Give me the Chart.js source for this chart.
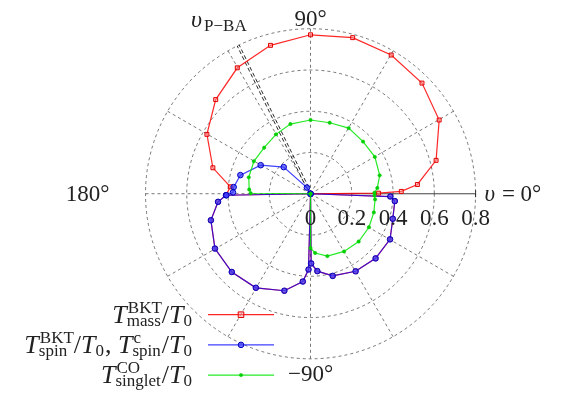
<!DOCTYPE html>
<html>
<head>
<meta charset="utf-8">
<script src="https://cdn.jsdelivr.net/npm/chart.js@4.4.1/dist/chart.umd.min.js"></script>
<style>
  html, body { margin: 0; padding: 0; background: #fff; }
  canvas { display: block; }
</style>
</head>
<body>
<canvas id="polar" width="569" height="409"></canvas>
<script>
// angles are upsilon in degrees, radii are T / T0

// lower half: mass and spin curves coincide
const lowerAngles = [180, -179, -175, -165, -150, -135, -120, -105, -95, -91.5, -90, -89.5, -85, -75, -60, -45, -30, -17, -5, -2, 0];
const lowerRadii  = [0, 0.41, 0.45, 0.50, 0.535, 0.54, 0.53, 0.49, 0.43, 0.37, 0, 0.34, 0.379, 0.415, 0.437, 0.446, 0.445, 0.417, 0.41, 0.387, 0];

const massAngles = [0.5, 1.5, 5, 15, 30, 45, 60, 75, 90, 105, 120, 135, 150, 165, 175, -179];
const massRadii  = [0.33, 0.44, 0.52, 0.63, 0.72, 0.764, 0.782, 0.789, 0.776, 0.75, 0.71, 0.65, 0.58, 0.49, 0.39, 0.41];

const spinAngles = [120, 135, 150, 165, 175, 179, -179];
const spinRadii  = [0.035, 0.184, 0.279, 0.352, 0.374, 0.376, 0.408];

const singletAngles = [-90, -90, -85.6, -75, -60, -45, -30, -16.5, -5, -1.5, 1, 5, 15, 30, 45, 60, 75, 90, 106, 120, 135, 150, 165, 176, 179.5, 180];
const singletRadii  = [0, 0.265, 0.29, 0.315, 0.325, 0.33, 0.327, 0.32, 0.314, 0.31, 0.31, 0.325, 0.347, 0.36, 0.36, 0.37, 0.359, 0.36, 0.354, 0.335, 0.318, 0.317, 0.31, 0.298, 0.29, 0];

const ringValues = [0.2, 0.4, 0.6, 0.8];
const tickLabels = ['0', '0.2', '0.4', '0.6', '0.8'];
const spokeAngles = [30, 60, 90, 120, 150, 180, 210, 240, 270, 300, 330];
const pbaAngle = 116;

const cx = 311, cy = 193.5, unit = 210; // pixel centre and px per unit
const W = 569, H = 409;

function polar(angles, radii) {
  return angles.map((a, i) => {
    const t = a * Math.PI / 180;
    return { x: radii[i] * Math.cos(t), y: radii[i] * Math.sin(t) };
  });
}

const SERIF = '"Liberation Serif", "DejaVu Serif", serif';
const fBig = '23px ' + SERIF;
const fItal = 'italic 26px ' + SERIF;
const fRom = '26px ' + SERIF;
const fSmall = '17px ' + SERIF;

// rich text: runs of {t, f} or {sup, sub}
function runWidth(ctx, runs) {
  let w = 0;
  runs.forEach(r => {
    if (r.t !== undefined) { ctx.font = r.f; w += ctx.measureText(r.t).width; }
    else {
      ctx.font = fSmall;
      w += Math.max(r.sup ? ctx.measureText(r.sup).width : 0, r.sub ? ctx.measureText(r.sub).width : 0) + 1;
    }
  });
  return w;
}
function drawRuns(ctx, runs, xRight, base) {
  let x = xRight - runWidth(ctx, runs);
  ctx.textAlign = 'left';
  ctx.textBaseline = 'alphabetic';
  runs.forEach(r => {
    if (r.t !== undefined) {
      ctx.font = r.f;
      ctx.fillText(r.t, x, base);
      x += ctx.measureText(r.t).width;
    } else {
      ctx.font = fSmall;
      let w = 0;
      if (r.sup) { ctx.fillText(r.sup, x + 1, base - 10); w = Math.max(w, ctx.measureText(r.sup).width); }
      if (r.sub) { ctx.fillText(r.sub, x, base + 3); w = Math.max(w, ctx.measureText(r.sub).width); }
      x += w + 1;
    }
  });
}

const legendRows = [
  [{ t: 'T', f: fItal }, { sup: 'BKT', sub: 'mass' }, { t: '/', f: fRom }, { t: 'T', f: fItal }, { sub: '0' }],
  [{ t: 'T', f: fItal }, { sup: 'BKT', sub: 'spin' }, { t: '/', f: fRom }, { t: 'T', f: fItal }, { sub: '0' },
   { t: ', ', f: fRom }, { t: 'T', f: fItal }, { sup: 'c', sub: 'spin' }, { t: '/', f: fRom }, { t: 'T', f: fItal }, { sub: '0' }],
  [{ t: 'T', f: fItal }, { sup: 'CO', sub: 'singlet' }, { t: '/', f: fRom }, { t: 'T', f: fItal }, { sub: '0' }]
];

const polarGrid = {
  id: 'polarGrid',
  beforeDatasetsDraw(chart) {
    const { ctx, scales: { x, y } } = chart;
    const ox = x.getPixelForValue(0), oy = y.getPixelForValue(0);
    const px = x.getPixelForValue(1) - ox;
    const rMax = ringValues[ringValues.length - 1] * px;
    ctx.save();
    ctx.strokeStyle = '#555';
    ctx.lineWidth = 0.8;
    ctx.setLineDash([3, 3]);
    ringValues.forEach(v => {
      ctx.beginPath();
      ctx.arc(ox, oy, v * px, 0, Math.PI * 2);
      ctx.stroke();
    });
    spokeAngles.forEach(a => {
      const t = a * Math.PI / 180;
      ctx.beginPath();
      ctx.moveTo(ox, oy);
      ctx.lineTo(ox + rMax * Math.cos(t), oy - rMax * Math.sin(t));
      ctx.stroke();
    });
    // radial axis
    ctx.setLineDash([]);
    ctx.strokeStyle = '#111';
    ctx.beginPath();
    ctx.moveTo(ox, oy);
    ctx.lineTo(ox + rMax, oy);
    ctx.moveTo(ox + rMax, oy - 3.5);
    ctx.lineTo(ox + rMax, oy + 3.5);
    ctx.stroke();
    // upsilon P-BA direction, drawn as a double dashed line
    const t = pbaAngle * Math.PI / 180;
    ctx.setLineDash([4, 2.5]);
    ctx.lineWidth = 0.9;
    [-1.1, 1.1].forEach(o => {
      const dx = -Math.sin(t) * o, dy = -Math.cos(t) * o;
      ctx.beginPath();
      ctx.moveTo(ox + dx, oy + dy);
      ctx.lineTo(ox + rMax * Math.cos(t) + dx, oy - rMax * Math.sin(t) + dy);
      ctx.stroke();
    });
    ctx.restore();
  },
  afterDatasetsDraw(chart) {
    const { ctx, scales: { x, y } } = chart;
    const ox = x.getPixelForValue(0), oy = y.getPixelForValue(0);
    const px = x.getPixelForValue(1) - ox;
    const rMax = ringValues[ringValues.length - 1] * px;
    ctx.save();
    ctx.fillStyle = '#222';
    ctx.font = fBig;
    ctx.textBaseline = 'alphabetic';
    ctx.textAlign = 'center';
    tickLabels.forEach(l => ctx.fillText(l, ox + parseFloat(l) * px, oy + 31.5));
    ctx.fillText('90°', ox, oy - rMax - 3);
    ctx.fillText('\u221290°', ox, oy + rMax + 22);
    ctx.textAlign = 'right';
    ctx.fillText('180°', ox - rMax - 36, oy + 7);
    ctx.textAlign = 'left';
    ctx.font = 'italic 23px ' + SERIF;
    ctx.fillText('υ', ox + rMax + 9, oy + 7);
    const uw = ctx.measureText('υ').width;
    ctx.font = fBig;
    ctx.fillText(' = 0°', ox + rMax + 9 + uw + 1, oy + 7);
    // upsilon P-BA label
    ctx.font = 'italic 24px ' + SERIF;
    ctx.fillText('υ', 191, 27);
    ctx.font = fSmall;
    ctx.fillText('P\u2212BA', 204, 31);
    ctx.restore();

    // legend
    ctx.save();
    chart.data.datasets.forEach((ds, i) => {
      const ly = 314.7 + i * 30.2;
      ctx.strokeStyle = ds.borderColor;
      ctx.lineWidth = ds.borderWidth;
      ctx.beginPath();
      ctx.moveTo(208, ly);
      ctx.lineTo(274, ly);
      ctx.stroke();
      ctx.fillStyle = ds.pointBackgroundColor;
      ctx.strokeStyle = ds.pointBorderColor;
      ctx.lineWidth = ds.pointBorderWidth;
      ctx.beginPath();
      if (ds.pointStyle === 'rect') {
        const h = ds.pointRadius / Math.SQRT2 * 1.414;
        ctx.rect(241 - h, ly - h, h * 2, h * 2);
      } else {
        ctx.arc(241, ly, ds.pointRadius, 0, Math.PI * 2);
      }
      ctx.fill();
      ctx.stroke();
      ctx.fillStyle = '#222';
      drawRuns(ctx, legendRows[i], 193, ly + 8);
    });
    ctx.restore();
  }
};

const massData = polar(lowerAngles.concat(massAngles), lowerRadii.concat(massRadii));
const spinData = polar(lowerAngles.concat(spinAngles), lowerRadii.concat(spinRadii));
const singletData = polar(singletAngles, singletRadii);

new Chart(document.getElementById('polar'), {
  type: 'scatter',
  data: {
    datasets: [
      {
        label: 'T_mass^BKT/T0',
        data: massData,
        showLine: true,
        borderColor: 'rgba(255,0,0,0.85)',
        borderWidth: 1.2,
        pointStyle: 'rect',
        pointRadius: 2.8,
        pointBorderWidth: 1,
        pointBorderColor: 'rgba(225,0,0,1)',
        pointBackgroundColor: 'rgba(255,150,150,0.5)',
        order: 2
      },
      {
        label: 'T_spin^BKT/T0, T_spin^c/T0',
        data: spinData,
        showLine: true,
        borderColor: 'rgba(0,0,255,0.75)',
        borderWidth: 1.2,
        pointStyle: 'circle',
        pointRadius: 2.8,
        pointBorderWidth: 1,
        pointBorderColor: 'rgba(0,0,190,1)',
        pointBackgroundColor: 'rgba(60,60,255,0.7)',
        order: 1
      },
      {
        label: 'T_singlet^CO/T0',
        data: singletData,
        showLine: true,
        borderColor: 'rgba(0,230,0,0.85)',
        borderWidth: 1.2,
        pointStyle: 'circle',
        pointRadius: 1.7,
        pointBorderWidth: 0.5,
        pointBorderColor: 'rgba(0,200,0,1)',
        pointBackgroundColor: 'rgba(0,210,0,1)',
        order: 0
      }
    ]
  },
  options: {
    responsive: false,
    animation: false,
    events: [],
    layout: { padding: 0 },
    elements: { line: { tension: 0 } },
    scales: {
      x: { type: 'linear', display: false, min: -cx / unit, max: (W - cx) / unit },
      y: { type: 'linear', display: false, min: -(H - cy) / unit, max: cy / unit }
    },
    plugins: { legend: { display: false }, tooltip: { enabled: false } }
  },
  plugins: [polarGrid]
});
</script>
</body>
</html>
